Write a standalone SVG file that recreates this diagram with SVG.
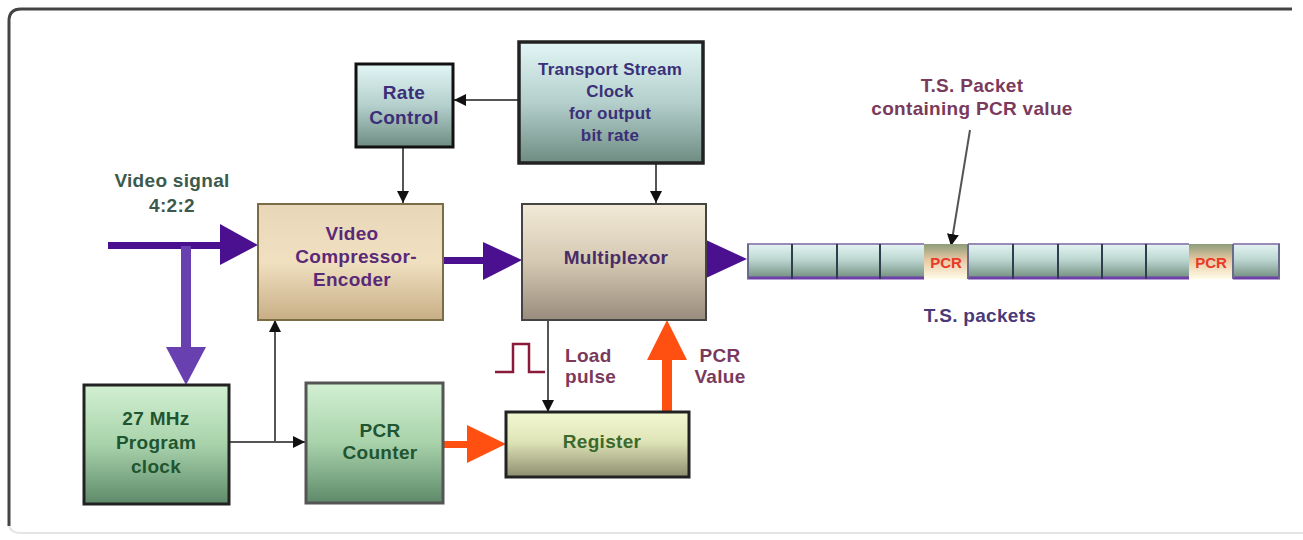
<svg xmlns="http://www.w3.org/2000/svg" width="1303" height="540" viewBox="0 0 1303 540">
<defs>
  <linearGradient id="gCyan" x1="0" y1="0" x2="0" y2="1">
    <stop offset="0" stop-color="#e2f6f6"/><stop offset="0.5" stop-color="#b4cfcc"/><stop offset="1" stop-color="#6e8c82"/>
  </linearGradient>
  <linearGradient id="gTan" x1="0" y1="0" x2="0" y2="1">
    <stop offset="0" stop-color="#e8d6b8"/><stop offset="0.5" stop-color="#f0e0c0"/><stop offset="1" stop-color="#c8ae86"/>
  </linearGradient>
  <linearGradient id="gMux" x1="0" y1="0" x2="0" y2="1">
    <stop offset="0" stop-color="#f2ead6"/><stop offset="0.5" stop-color="#d4c8b2"/><stop offset="1" stop-color="#9a8c7c"/>
  </linearGradient>
  <linearGradient id="gGreen" x1="0" y1="0" x2="0" y2="1">
    <stop offset="0" stop-color="#d2f0d2"/><stop offset="0.5" stop-color="#a8d2aa"/><stop offset="1" stop-color="#5e8a6a"/>
  </linearGradient>
  <linearGradient id="gReg" x1="0" y1="0" x2="0" y2="1">
    <stop offset="0" stop-color="#f4f8d2"/><stop offset="0.45" stop-color="#dfe4b8"/><stop offset="1" stop-color="#8e8e6e"/>
  </linearGradient>
  <linearGradient id="gCell" x1="0" y1="0" x2="0" y2="1">
    <stop offset="0" stop-color="#e4f4f2"/><stop offset="0.45" stop-color="#bcd6d0"/><stop offset="1" stop-color="#6e8c7c"/>
  </linearGradient>
  <linearGradient id="gPcr" x1="0" y1="0" x2="0" y2="1">
    <stop offset="0" stop-color="#8c9c7a"/><stop offset="0.45" stop-color="#e8c8a2"/><stop offset="1" stop-color="#fffce8"/>
  </linearGradient>
  <marker id="ah" viewBox="0 0 12 12" refX="12" refY="6" markerWidth="12" markerHeight="12" markerUnits="userSpaceOnUse" orient="auto">
    <path d="M0,0 L12,6 L0,12 z" fill="#111"/>
  </marker>
  <style>
    .t{font-family:"Liberation Sans",Arial,sans-serif;font-weight:bold;font-size:19px;letter-spacing:0.3px;text-anchor:middle}
    .ts{font-size:17px;letter-spacing:0.2px}
    .blue{fill:#3a2f78}
    .purp{fill:#5a2a78}
    .mux{fill:#4a2c68}
    .grn{fill:#1f5530}
    .reg{fill:#3c6a2c}
    .vs{fill:#3c5a4c}
    .lab{fill:#7a3a5c}
    .tsp{fill:#4a3a78}
    .thin{stroke:#555;stroke-width:2;fill:none;marker-end:url(#ah)}
    .purple{fill:#4a1090}
    .orange{fill:#ff5012}
  </style>
</defs>
<rect width="1303" height="540" fill="#fff"/>
<!-- frame -->
<path d="M9,526 L9,21 Q9,9 21,9 L1292,9" fill="none" stroke="#444" stroke-width="3"/>
<path d="M9,526 Q11,533 21,533 L1303,533" fill="none" stroke="#e4e4e4" stroke-width="2"/>

<g id="connectors">
  <line class="thin" x1="518" y1="100" x2="454" y2="100"/>
  <line class="thin" x1="403" y1="147" x2="403" y2="203"/>
  <line class="thin" x1="656" y1="163" x2="656" y2="203"/>
  <line class="thin" x1="229" y1="442" x2="305" y2="442"/>
  <line class="thin" x1="275" y1="443" x2="275" y2="320"/>
  <line class="thin" x1="548" y1="320" x2="548" y2="412"/>
  <line class="thin" x1="970" y1="130" x2="951" y2="246"/>
  <rect class="purple" x="108" y="242" width="114" height="7"/>
  <path class="purple" d="M220,224 L258,245 L220,265 z"/>
  <rect x="181" y="246" width="10" height="104" fill="#6840b0"/>
  <path d="M166,347 L206,347 L186,385 z" fill="#6840b0"/>
  <rect class="purple" x="443" y="257" width="42" height="7"/>
  <path class="purple" d="M483,242 L522,260 L483,280 z"/>
  <path class="purple" d="M706,240 L747,259 L706,278 z"/>
  <rect class="orange" x="443" y="441" width="26" height="7"/>
  <path class="orange" d="M467,425 L506,444 L467,463 z"/>
  <rect class="orange" x="662" y="356" width="10" height="56"/>
  <path class="orange" d="M647,360 L687,360 L667,320 z"/>
  <polyline points="495,372 513,372 513,344 529,344 529,372 545,372" fill="none" stroke="#8a1a3a" stroke-width="2.5"/>
</g>

<g id="rate-control">
  <rect x="356" y="64" width="97" height="83" fill="url(#gCyan)" stroke="#111" stroke-width="3"/>
  <text class="t blue" x="404" y="99">Rate</text>
  <text class="t blue" x="404" y="124">Control</text>
</g>

<g id="ts-clock">
  <rect x="519" y="42" width="184" height="121" fill="url(#gCyan)" stroke="#222" stroke-width="3.5"/>
  <text class="t ts blue" x="610" y="75">Transport Stream</text>
  <text class="t ts blue" x="610" y="97">Clock</text>
  <text class="t ts blue" x="610" y="119">for output</text>
  <text class="t ts blue" x="610" y="141">bit rate</text>
</g>

<g id="video-compressor">
  <rect x="258" y="204" width="185" height="116" fill="url(#gTan)" stroke="#7a6c44" stroke-width="2"/>
  <text class="t purp" x="352" y="240">Video</text>
  <text class="t purp" x="356" y="263">Compressor-</text>
  <text class="t purp" x="352" y="286">Encoder</text>
</g>

<g id="multiplexor">
  <rect x="522" y="204" width="184" height="116" fill="url(#gMux)" stroke="#444" stroke-width="2"/>
  <text class="t mux" x="616" y="264">Multiplexor</text>
</g>

<g id="program-clock">
  <rect x="84" y="385" width="145" height="119" fill="url(#gGreen)" stroke="#222" stroke-width="3"/>
  <text class="t grn" x="156" y="425">27 MHz</text>
  <text class="t grn" x="156" y="449">Program</text>
  <text class="t grn" x="156" y="473">clock</text>
</g>

<g id="pcr-counter">
  <rect x="306" y="383" width="137" height="120" fill="url(#gGreen)" stroke="#555" stroke-width="3"/>
  <text class="t grn" x="380" y="437">PCR</text>
  <text class="t grn" x="380" y="459">Counter</text>
</g>

<g id="register">
  <rect x="506" y="412" width="183" height="65" fill="url(#gReg)" stroke="#222" stroke-width="3"/>
  <text class="t reg" x="602" y="448">Register</text>
</g>

<g id="ts-packets">
  <rect x="747" y="244" width="533" height="35" fill="url(#gCell)"/>
  <rect x="924" y="244" width="44" height="35" fill="url(#gPcr)"/>
  <rect x="1189" y="244" width="44" height="35" fill="url(#gPcr)"/>
  <g stroke="#9a8ab8" stroke-width="2">
    <line x1="747" y1="244" x2="924" y2="244"/>
    <line x1="968" y1="244" x2="1189" y2="244"/>
    <line x1="1233" y1="244" x2="1280" y2="244"/>
  </g>
  <g stroke="#6e40a8" stroke-width="3">
    <line x1="747" y1="278" x2="924" y2="278"/>
    <line x1="968" y1="278" x2="1189" y2="278"/>
    <line x1="1233" y1="278" x2="1280" y2="278"/>
  </g>
  <g stroke="#2e3e4e" stroke-width="2">
    <line x1="792" y1="244" x2="792" y2="279"/>
    <line x1="837" y1="244" x2="837" y2="279"/>
    <line x1="880" y1="244" x2="880" y2="279"/>
    <line x1="1013" y1="244" x2="1013" y2="279"/>
    <line x1="1058" y1="244" x2="1058" y2="279"/>
    <line x1="1102" y1="244" x2="1102" y2="279"/>
    <line x1="1146" y1="244" x2="1146" y2="279"/>
  </g>
  <g stroke="#6a6a8a" stroke-width="2">
    <line x1="748" y1="244" x2="748" y2="279"/>
    <line x1="968" y1="244" x2="968" y2="279"/>
    <line x1="1233" y1="244" x2="1233" y2="279"/>
    <line x1="1279" y1="244" x2="1279" y2="279"/>
  </g>
  <text class="t" x="946" y="268" fill="#e83a26" style="font-size:15px;letter-spacing:0">PCR</text>
  <text class="t" x="1211" y="268" fill="#e83a26" style="font-size:15px;letter-spacing:0">PCR</text>
</g>

<g id="labels">
  <text class="t vs" x="172" y="187">Video signal</text>
  <text class="t vs" x="172" y="212">4:2:2</text>
  <text class="t lab" x="972" y="92">T.S. Packet</text>
  <text class="t lab" x="972" y="115">containing PCR value</text>
  <text class="t tsp" x="980" y="322">T.S. packets</text>
  <text class="t lab" x="565" y="362" style="text-anchor:start">Load</text>
  <text class="t lab" x="565" y="383" style="text-anchor:start">pulse</text>
  <text class="t lab" x="720" y="362">PCR</text>
  <text class="t lab" x="720" y="383">Value</text>
</g>
</svg>
